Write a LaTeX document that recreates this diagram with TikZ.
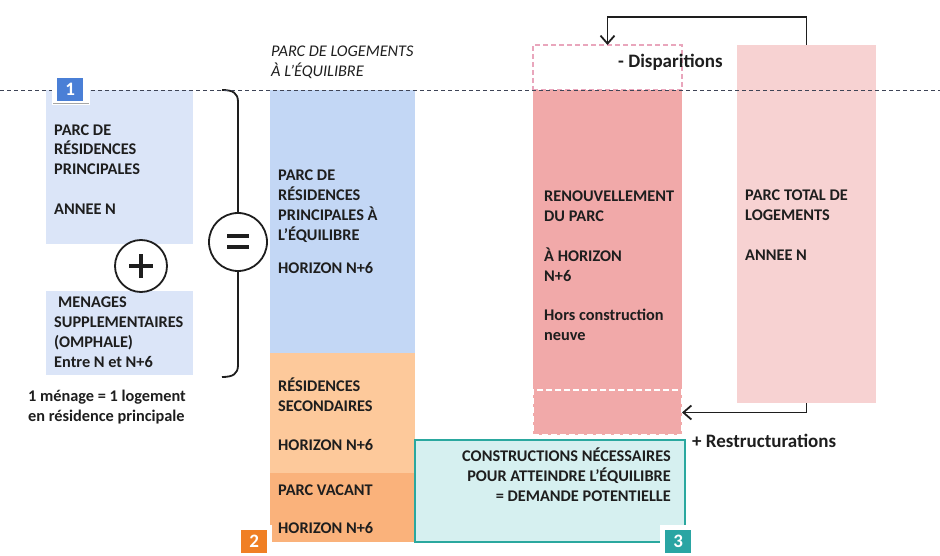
\documentclass[tikz,border=0pt]{standalone}
\usepackage{fontspec}
\setmainfont{Carlito}
\usetikzlibrary{arrows.meta}
\definecolor{txtc}{HTML}{1E1E1E}
\definecolor{boxone}{HTML}{DBE5F8}
\definecolor{colblue}{HTML}{C3D7F5}
\definecolor{orlight}{HTML}{FDC99B}
\definecolor{ordark}{HTML}{FAB27B}
\definecolor{redc}{HTML}{F1A9A9}
\definecolor{pinkc}{HTML}{F7D2D2}
\definecolor{cyanf}{HTML}{D6F0F0}
\definecolor{tealc}{HTML}{2AA89F}
\definecolor{pinkdash}{HTML}{E9A6BC}
\definecolor{labone}{HTML}{4A7FD6}
\definecolor{labtwo}{HTML}{F07F24}
\definecolor{labthree}{HTML}{2AA5A3}
\definecolor{dashc}{HTML}{3E4456}
\begin{document}
\begin{tikzpicture}[x=1pt,y=-1pt,
  blk/.style={rectangle, inner sep=0pt, outer sep=0pt, anchor=north west},
  txt/.style={anchor=base west, align=left, inner sep=0pt, text=txtc,
    font=\fontsize{16.3}{20}\selectfont\bfseries},
  txtr/.style={anchor=base east, align=right, inner sep=0pt, text=txtc,
    font=\fontsize{16.3}{20}\selectfont\bfseries},
  bigtxt/.style={anchor=base west, inner sep=0pt, text=txtc,
    font=\fontsize{19}{22}\selectfont\bfseries},
  labsq/.style={rectangle, inner sep=0pt, minimum width=26pt, minimum height=23pt,
    text=white, font=\fontsize{19}{19}\selectfont\bfseries},
  ring/.style={circle, draw=txtc, line width=1.8pt, fill=white, inner sep=0pt},
  brace/.style={draw=txtc, line width=1.8pt},
  arr/.style={draw=txtc, line width=1.8pt, -{Straight Barb[length=8pt,width=14pt,line width=1.8pt]}},
]
\useasboundingbox (0,0) rectangle (940,556);

% ---- column 1
\node[blk, fill=boxone, minimum width=147pt, minimum height=154pt] (b1) at (46,90) {};
\node[blk, fill=boxone, minimum width=147pt, minimum height=84pt] (b1b) at (46,291) {};
\node[txt] (t1) at (54,215) {PARC DE\\RÉSIDENCES\\PRINCIPALES\\[20pt]ANNEE N};
\node[txt] (t1b) at (54,367) {\hspace{4pt}MENAGES\\SUPPLEMENTAIRES\\(OMPHALE)\\Entre N et N+6};
\node[txt] (t1c) at (28,421) {1 ménage = 1 logement\\en résidence principale};
\node[ring, minimum size=52pt] (plus) at (141,266) {};
\draw[txtc, line width=3.5pt] ([xshift=-12pt]plus.center) -- ([xshift=12pt]plus.center);
\draw[txtc, line width=3.5pt] ([yshift=-12pt]plus.center) -- ([yshift=12pt]plus.center);

% ---- brace with equal sign
\coordinate (bt) at (222,90);
\coordinate (bb) at (222,377);
\node[ring, minimum size=58pt] (eq) at (238,242) {};
\draw[brace] (bt) .. controls (233,90) and (238,93) .. (238,102) -- (eq.north);
\draw[brace] (eq.south) -- (238,365) .. controls (238,374) and (233,377) .. (bb);
\draw[txtc, line width=4pt] ([xshift=-11pt,yshift=-5.5pt]eq.center) -- ([xshift=11pt,yshift=-5.5pt]eq.center);
\draw[txtc, line width=4pt] ([xshift=-11pt,yshift=5.5pt]eq.center) -- ([xshift=11pt,yshift=5.5pt]eq.center);

% ---- column 2
\node[txt, font=\fontsize{16.3}{20}\selectfont\itshape] (title) at (271,77) {PARC DE LOGEMENTS\\À L’ÉQUILIBRE};
\node[blk, fill=colblue, minimum width=145pt, minimum height=263pt] (c2a) at (270,90) {};
\node[blk, fill=orlight, minimum width=145pt, minimum height=120pt] (c2b) at (270,353) {};
\node[blk, fill=ordark, minimum width=145pt, minimum height=69pt] (c2c) at (270,473) {};
\node[txt] (t2a) at (278,273) {PARC DE\\RÉSIDENCES\\PRINCIPALES À\\L’ÉQUILIBRE\\[13pt]HORIZON N+6};
\node[txt] (t2b) at (278,450) {RÉSIDENCES\\SECONDAIRES\\[19pt]HORIZON N+6};
\node[txt] (t2c) at (278,533) {PARC VACANT\\[18pt]HORIZON N+6};

% ---- renewal column
\node[blk, draw=pinkdash, dashed, dash pattern=on 5pt off 3pt, line width=1.5pt,
  minimum width=149pt, minimum height=45pt] (disp) at (533,45) {};
\node[blk, fill=redc, minimum width=149pt, minimum height=300pt] (ren) at (533,90) {};
\node[blk, fill=redc, draw=white, dash pattern=on 6pt off 3pt, line width=2pt,
  minimum width=149pt, minimum height=45pt] (ren2) at (533,390) {};
\node[txt] (t3) at (544,340) {RENOUVELLEMENT\\DU PARC\\[20pt]À HORIZON\\N+6\\[19pt]Hors construction\\neuve};
\node[bigtxt] (dtxt) at (618,68) {- Disparitions};

% ---- total stock
\node[blk, fill=pinkc, minimum width=139pt, minimum height=358pt] (pc) at (737,45) {};
\node[txt] (t4) at (745,261) {PARC TOTAL DE\\LOGEMENTS\\[20pt]ANNEE N};

% ---- constructions box
\node[blk, fill=cyanf, draw=tealc, line width=2.5pt, minimum width=270pt, minimum height=102pt] (b3) at (415,440) {};
\node[txtr] (t5) at (671,501) {CONSTRUCTIONS NÉCESSAIRES\\POUR ATTEINDRE L’ÉQUILIBRE\\= DEMANDE POTENTIELLE};
\node[bigtxt] (rtxt) at (692,447) {+ Restructurations};

% ---- dashed horizon line
\draw[dashc, line width=0.9pt, dash pattern=on 4pt off 3pt] (0,90) -- (940,90);

% ---- arrows
\draw[arr] (pc.north) -- ++(0,-28) -| (disp.north);
\draw[arr] (pc.south) |- (ren2.east);

% ---- labels
\fill[white] (52,76) rectangle (90,105);
\draw[gray!70, line width=1pt] (53,104) -- (89,104);
\node[labsq, fill=labone, anchor=north west] (l1) at (57,78) {1};
\fill[white] (237,525) rectangle (272,556);
\node[labsq, fill=labtwo, anchor=north west] (l2) at (241,530) {2};
\fill[white] (660,525) rectangle (697,556);
\node[labsq, fill=labthree, anchor=north west] (l3) at (665,530) {3};
\end{tikzpicture}
\end{document}
